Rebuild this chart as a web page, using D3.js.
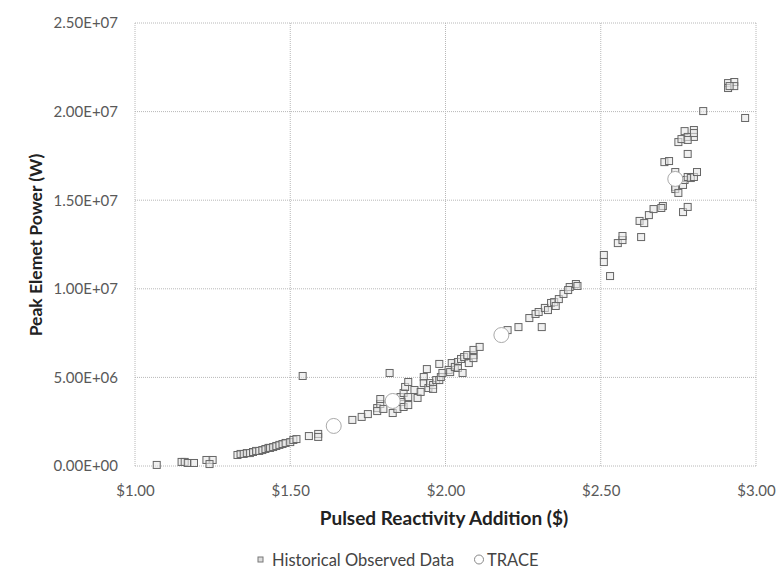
<!DOCTYPE html>
<html>
<head>
<meta charset="utf-8">
<script src="https://d3js.org/d3.v7.min.js"></script>
<style>
  body { margin: 0; background: #fff; }
  text { font-family: Lato, "Open Sans", sans-serif; }
</style>
</head>
<body>
<div id="chart"></div>
<script>
// historical observed data: reactivity ($) and peak power (MW)
var histReactivity = [1.07, 1.15, 1.16, 1.17, 1.19, 1.23, 1.25, 1.24,
  1.33, 1.34, 1.35, 1.36, 1.37, 1.38, 1.39, 1.40, 1.41, 1.42, 1.43, 1.435, 1.445, 1.455, 1.465, 1.475, 1.485, 1.50, 1.51, 1.52,
  1.54, 1.56, 1.59, 1.59, 1.70, 1.73, 1.75, 1.78, 1.78, 1.79, 1.79, 1.80, 1.82, 1.83, 1.845, 1.855, 1.86, 1.865, 1.865,
  1.87, 1.88, 1.88, 1.88, 1.90, 1.91, 1.92, 1.93, 1.93, 1.94, 1.945, 1.95, 1.96, 1.96, 1.97, 1.98, 1.98, 1.985, 1.99,
  2.01, 2.02, 2.015, 2.03, 2.04, 2.04, 2.05, 2.055, 2.06, 2.07, 2.075, 2.09, 2.09, 2.09, 2.11,
  2.20, 2.235, 2.31, 2.27, 2.29, 2.30, 2.32, 2.33, 2.34, 2.35, 2.355, 2.365, 2.38, 2.40, 2.395, 2.42, 2.425,
  2.51, 2.51, 2.53, 2.555, 2.57, 2.57, 2.63, 2.625, 2.64, 2.655, 2.67, 2.70, 2.695, 2.765, 2.78,
  2.705, 2.72, 2.74, 2.735, 2.74, 2.74, 2.75, 2.765, 2.77, 2.78, 2.79, 2.80, 2.81, 2.78,
  2.75, 2.76, 2.77, 2.78, 2.80, 2.80, 2.80, 2.78, 2.83, 2.91, 2.91, 2.93, 2.93, 2.915, 2.965];
var histPower = [0.06, 0.23, 0.23, 0.17, 0.17, 0.34, 0.34, 0.11,
  0.62, 0.68, 0.68, 0.73, 0.73, 0.79, 0.85, 0.85, 0.90, 0.96, 1.02, 1.02, 1.07, 1.13, 1.19, 1.24, 1.30, 1.35, 1.47, 1.52,
  5.08, 1.69, 1.81, 1.64, 2.60, 2.77, 2.93, 3.27, 3.10, 3.50, 3.78, 3.22, 5.25, 2.99, 3.22, 3.89, 3.61, 4.12, 3.33,
  4.46, 4.74, 3.89, 3.44, 4.29, 3.84, 4.18, 5.02, 4.68, 5.47, 4.40, 4.68, 4.57, 4.35, 4.85, 4.85, 5.76, 5.02, 5.25,
  5.42, 5.81, 5.30, 5.59, 5.87, 5.53, 6.04, 5.25, 6.15, 6.26, 5.81, 6.26, 6.09, 6.55, 6.72,
  7.67, 7.84, 7.84, 8.35, 8.58, 8.69, 8.92, 8.80, 9.20, 9.25, 9.03, 9.42, 9.71, 10.10, 9.93, 10.27, 10.16,
  11.51, 11.91, 10.72, 12.58, 12.75, 12.98, 12.92, 13.83, 13.71, 14.16, 14.50, 14.67, 14.56, 14.33, 14.62,
  17.15, 17.21, 16.59, 16.14, 15.74, 15.63, 15.41, 15.86, 16.14, 16.31, 16.25, 16.31, 16.59, 17.61,
  18.28, 18.45, 18.90, 18.57, 18.96, 18.57, 18.79, 18.40, 20.03, 21.61, 21.33, 21.67, 21.44, 21.44, 19.64];

// TRACE calculations
var traceReactivity = [1.64, 1.83, 2.18, 2.74];
var tracePower = [2.26, 3.67, 7.39, 16.20];

var xTicks = [1.0, 1.5, 2.0, 2.5, 3.0];
var yTicks = [0, 5e6, 1e7, 1.5e7, 2e7, 2.5e7];

var W = 780, H = 576;
var margin = { top: 23, right: 24, bottom: 110, left: 135 };
var width = W - margin.left - margin.right,
    height = H - margin.top - margin.bottom;

var svg = d3.select("#chart").append("svg")
  .attr("width", W).attr("height", H);

var g = svg.append("g")
  .attr("transform", "translate(" + margin.left + "," + margin.top + ")");

var x = d3.scaleLinear().domain([1, 3]).range([0, width]);
var y = d3.scaleLinear().domain([0, 2.5e7]).range([height, 0]);

function sci(v) {
  if (v === 0) return "0.00E+00";
  var e = Math.floor(Math.log10(v) + 1e-9);
  var m = v / Math.pow(10, e);
  return m.toFixed(2) + "E+" + String(e).padStart(2, "0");
}

// gridlines
g.selectAll(".hgrid").data(yTicks).enter().append("line")
  .attr("x1", 0).attr("x2", width)
  .attr("y1", function (d) { return y(d) }).attr("y2", function (d) { return y(d) })
  .attr("stroke", "#b8b8b8").attr("stroke-dasharray", "1,1");
g.selectAll(".vgrid").data(xTicks).enter().append("line")
  .attr("y1", 0).attr("y2", height)
  .attr("x1", function (d) { return x(d) }).attr("x2", function (d) { return x(d) })
  .attr("stroke", "#b8b8b8").attr("stroke-dasharray", "1,1");

// axes (labels only)
var yAxis = g.append("g")
  .call(d3.axisLeft(y).tickValues(yTicks).tickFormat(sci).tickSize(0).tickPadding(17));
var xAxis = g.append("g")
  .attr("transform", "translate(0," + height + ")")
  .call(d3.axisBottom(x).tickValues(xTicks).tickFormat(function (d) { return "$" + d.toFixed(2) }).tickSize(0).tickPadding(19));
[yAxis, xAxis].forEach(function (a) {
  a.select(".domain").remove();
  a.selectAll("text").style("font-size", "15px").attr("fill", "#595959")
    .style("font-family", "Lato, 'Open Sans', sans-serif");
});

// historical squares
var hist = histReactivity.map(function (r, i) { return { r: r, p: histPower[i] * 1e6 } });
g.selectAll(".sq").data(hist).enter().append("rect")
  .attr("x", function (d) { return x(d.r) - 3.5 })
  .attr("y", function (d) { return y(d.p) - 3.5 })
  .attr("width", 7).attr("height", 7)
  .attr("fill", "#e6e6e6").attr("fill-opacity", 0.6)
  .attr("stroke", "#666").attr("stroke-width", 1);

// TRACE circles
var trace = traceReactivity.map(function (r, i) { return { r: r, p: tracePower[i] * 1e6 } });
g.selectAll(".ci").data(trace).enter().append("circle")
  .attr("cx", function (d) { return x(d.r) })
  .attr("cy", function (d) { return y(d.p) })
  .attr("r", 7.5)
  .attr("fill", "#fff").attr("stroke", "#aaa").attr("stroke-width", 1);

// axis titles
svg.append("text")
  .attr("x", 444).attr("y", 525)
  .attr("text-anchor", "middle")
  .style("font-size", "19px").style("font-weight", "bold").attr("fill", "#222")
  .text("Pulsed Reactivity Addition ($)");
svg.append("text")
  .attr("transform", "translate(42,245) rotate(-90)")
  .attr("text-anchor", "middle")
  .style("font-size", "17.5px").style("font-weight", "bold").attr("fill", "#222")
  .text("Peak Elemet Power (W)");

// legend
var leg = svg.append("g").attr("transform", "translate(0,566)");
leg.append("rect").attr("x", 258).attr("y", -9).attr("width", 5).attr("height", 5)
  .attr("fill", "#ddd").attr("stroke", "#777");
leg.append("text").attr("x", 272).attr("y", 0)
  .style("font-size", "16.5px").attr("fill", "#444").text("Historical Observed Data");
leg.append("circle").attr("cx", 479).attr("cy", -6.5).attr("r", 4.5)
  .attr("fill", "#fff").attr("stroke", "#888");
leg.append("text").attr("x", 487).attr("y", 0)
  .style("font-size", "16.5px").attr("fill", "#444").text("TRACE");
</script>
</body>
</html>
